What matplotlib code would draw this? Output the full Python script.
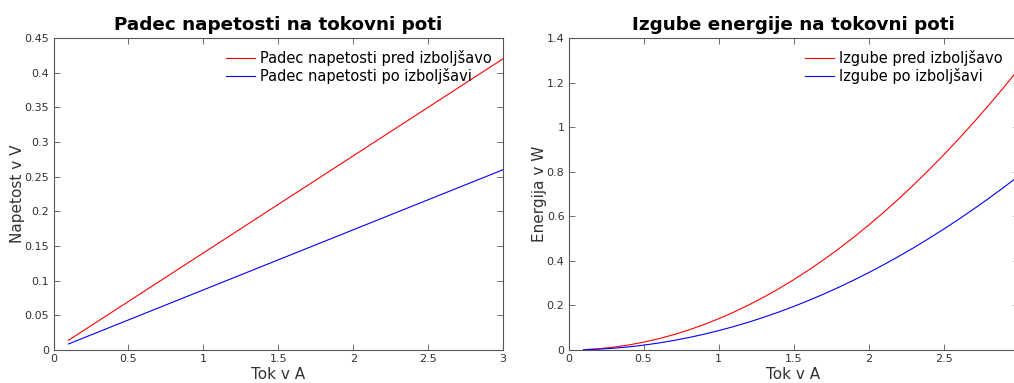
import matplotlib
matplotlib.use('Agg')
import matplotlib.pyplot as plt

# tok (A) in padec napetosti (V) na tokovni poti
tok_u = [0.1, 3.0]
u_pred = [0.014, 0.42]
u_po = [0.0087, 0.26]

# izgube (W) pri tokovih 0.1 ... 3.0 A
tok_p = [0.1, 0.2, 0.3, 0.4, 0.5, 0.6, 0.7, 0.8, 0.9, 1.0,
         1.1, 1.2, 1.3, 1.4, 1.5, 1.6, 1.7, 1.8, 1.9, 2.0,
         2.1, 2.2, 2.3, 2.4, 2.5, 2.6, 2.7, 2.8, 2.9, 3.0]
p_pred = [0.0014, 0.0056, 0.0126, 0.0224, 0.035, 0.0504, 0.0686, 0.0896, 0.1134, 0.14,
          0.1694, 0.2016, 0.2366, 0.2744, 0.315, 0.3584, 0.4046, 0.4536, 0.5054, 0.56,
          0.6174, 0.6776, 0.7406, 0.8064, 0.875, 0.9464, 1.0206, 1.0976, 1.1774, 1.26]
p_po = [0.0009, 0.0035, 0.0078, 0.0139, 0.0217, 0.0312, 0.0425, 0.0555, 0.0702, 0.0867,
        0.1049, 0.1248, 0.1465, 0.1699, 0.1951, 0.2220, 0.2506, 0.2809, 0.3130, 0.3468,
        0.3823, 0.4196, 0.4586, 0.4994, 0.5419, 0.5861, 0.6320, 0.6797, 0.7292, 0.7803]

u_ticks = [0, 0.05, 0.1, 0.15, 0.2, 0.25, 0.3, 0.35, 0.4, 0.45]
p_ticks = [0, 0.2, 0.4, 0.6, 0.8, 1, 1.2, 1.4]
x_ticks = [0, 0.5, 1, 1.5, 2, 2.5, 3]

plt.rcParams['font.family'] = ['DejaVu Sans']

fig = plt.figure(figsize=(10.14, 3.83), dpi=100)
ax1 = fig.add_axes([0.0528, 0.0862, 0.4433, 0.8146])
ax2 = fig.add_axes([0.5607, 0.0862, 0.4438, 0.8146])


def style_axes(ax, yticks, ylim, xlabels):
    ax.set_xlim(0, 3)
    ax.set_ylim(*ylim)
    ax.set_xticks(x_ticks)
    ax.set_xticklabels(xlabels)
    ax.set_yticks(yticks)
    ax.set_yticklabels(['%g' % t for t in yticks])
    ax.tick_params(direction='in', top=True, right=True, length=4, width=0.6,
                   colors='#555555', labelsize=8, labelcolor='#333333', pad=3)
    for s in ax.spines.values():
        s.set_color('#555555')
        s.set_linewidth(0.8)


ax1.plot(tok_u, u_pred, color='r', lw=0.8, label='Padec napetosti pred izboljšavo')
ax1.plot(tok_u, u_po, color='b', lw=0.8, label='Padec napetosti po izboljšavi')
style_axes(ax1, u_ticks, (0, 0.45), ['%g' % t for t in x_ticks])
ax1.set_title('Padec napetosti na tokovni poti', fontsize=13.2, fontweight='bold', pad=6)
ax1.set_xlabel('Tok v A', fontsize=11, color='#333333', labelpad=2)
ax1.set_ylabel('Napetost v V', fontsize=11, color='#333333', labelpad=0)
ax1.legend(loc='upper right', frameon=False, fontsize=10.5, handlelength=2.0,
           handletextpad=0.3, labelspacing=0.15, borderaxespad=0.4)

# desni graf sega cez rob slike, zato oznake 3 ni
ax2.plot(tok_p, p_pred, color='r', lw=0.8, label='Izgube pred izboljšavo')
ax2.plot(tok_p, p_po, color='b', lw=0.8, label='Izgube po izboljšavi')
style_axes(ax2, p_ticks, (0, 1.4), ['%g' % t for t in x_ticks[:-1]] + [''])
ax2.set_title('Izgube energije na tokovni poti', fontsize=13.2, fontweight='bold', pad=6)
ax2.set_xlabel('Tok v A', fontsize=11, color='#333333', labelpad=2)
ax2.set_ylabel('Energija v W', fontsize=11, color='#333333', labelpad=0)
ax2.legend(loc='upper right', bbox_to_anchor=(0.99, 1.0), frameon=False, fontsize=10.5,
           handlelength=2.0, handletextpad=0.3, labelspacing=0.15, borderaxespad=0.4)

fig.savefig('out.png', dpi=100)
